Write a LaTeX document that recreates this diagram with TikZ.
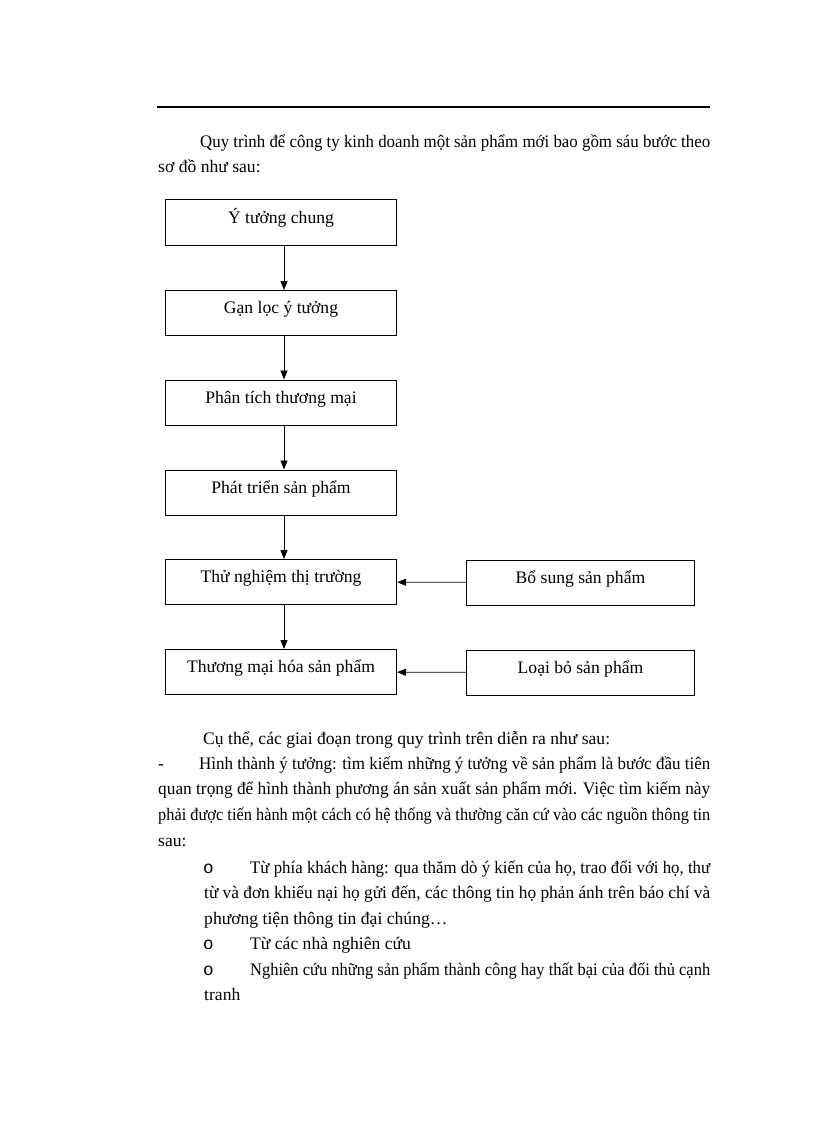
\documentclass[tikz,border=0pt]{standalone}
\usepackage{fontspec}
\usepackage{graphicx}
\setmainfont{Liberation Serif}
\newfontfamily\bulletfont{Liberation Mono}
\usetikzlibrary{arrows.meta}
\newsavebox\jbox
\newcommand{\jline}[2]{\sbox\jbox{#2}%
  \ifdim\wd\jbox>#1\relax\resizebox{#1}{\height}{\usebox\jbox}%
  \else\makebox[#1][s]{#2}\fi}
\begin{document}
\begin{tikzpicture}[x=1pt,y=-1pt,
        boxnode/.style={draw,line width=1pt,minimum height=45pt,inner sep=0pt,
          text height=10pt,text depth=9pt,font=\fontsize{17.6}{20}\selectfont},
        txt/.style={anchor=base west,inner sep=0pt,font=\fontsize{17.6}{20}\selectfont},
        >={Triangle[length=9pt,width=7pt]}]
        \useasboundingbox (0,0) rectangle (816,1123);
        \draw[line width=2pt] (157,107.5) -- (710,107.5);
        \node[txt] (p1) at (200,148) {\jline{510pt}{Quy trình để công ty kinh doanh một sản phẩm mới bao gồm sáu bước theo}};
        \node[txt] (p2) at (158,173) {sơ đồ như sau:};
        \node[boxnode,minimum width=231pt] (A) at (281,222.5) {Ý tưởng chung};
        \node[boxnode,minimum width=231pt] (B) at (281,313) {Gạn lọc ý tưởng};
        \node[boxnode,minimum width=231pt] (C) at (281,402.5) {Phân tích thương mại};
        \node[boxnode,minimum width=231pt] (D) at (281,492.5) {Phát triển sản phẩm};
        \node[boxnode,minimum width=231pt] (E) at (281,582) {Thử nghiệm thị trường};
        \node[boxnode,minimum width=231pt] (F) at (281,672) {Thương mại hóa sản phẩm};
        \node[boxnode,minimum width=228pt] (G) at (580.5,582.5) {Bổ sung sản phẩm};
        \node[boxnode,minimum width=228pt] (H) at (580.5,672.5) {Loại bỏ sản phẩm};
        \draw[->,line width=0.8pt] ([xshift=3pt]A.south) -- ([xshift=3pt]B.north);
        \draw[->,line width=0.8pt] ([xshift=3pt]B.south) -- ([xshift=3pt]C.north);
        \draw[->,line width=0.8pt] ([xshift=3pt]C.south) -- ([xshift=3pt]D.north);
        \draw[->,line width=0.8pt] ([xshift=3pt]D.south) -- ([xshift=3pt]E.north);
        \draw[->,line width=0.8pt] ([xshift=3pt]E.south) -- ([xshift=3pt]F.north);
        \draw[->,line width=0.8pt] (G) -- (E);
        \draw[->,line width=0.8pt] (H) -- (F);
        \node[txt] (p3) at (203,744) {Cụ thể, các giai đoạn trong quy trình trên diễn ra như sau:};
        \node[txt] (d1) at (158,769) {-};
        \node[txt] (p4) at (199,769) {\jline{511pt}{Hình thành ý tưởng: tìm kiếm những ý tưởng về sản phẩm là bước đầu tiên}};
        \node[txt] (p5) at (158,794) {\jline{552pt}{quan trọng để hình thành phương án sản xuất sản phẩm mới. Việc tìm kiếm này}};
        \node[txt] (p6) at (158,820) {\jline{552pt}{phải được tiến hành một cách có hệ thống và thường căn cứ vào các nguồn thông tin}};
        \node[txt] (p7) at (158,846) {sau:};
        \node[txt] (o1) at (203,873) {\bulletfont o};
        \node[txt] (p8) at (250,873) {\jline{460pt}{Từ phía khách hàng: qua thăm dò ý kiến của họ, trao đổi với họ, thư}};
        \node[txt] (p9) at (204,898) {\jline{506pt}{từ và đơn khiếu nại họ gửi đến, các thông tin họ phản ánh trên báo chí và}};
        \node[txt] (p10) at (204,924) {phương tiện thông tin đại chúng…};
        \node[txt] (o2) at (203,949) {\bulletfont o};
        \node[txt] (p11) at (250,949) {Từ các nhà nghiên cứu};
        \node[txt] (o3) at (203,975) {\bulletfont o};
        \node[txt] (p12) at (250,975) {\jline{460pt}{Nghiên cứu những sản phẩm thành công hay thất bại của đối thủ cạnh}};
        \node[txt] (p13) at (204,1000) {tranh};
    \end{tikzpicture}
\end{document}
